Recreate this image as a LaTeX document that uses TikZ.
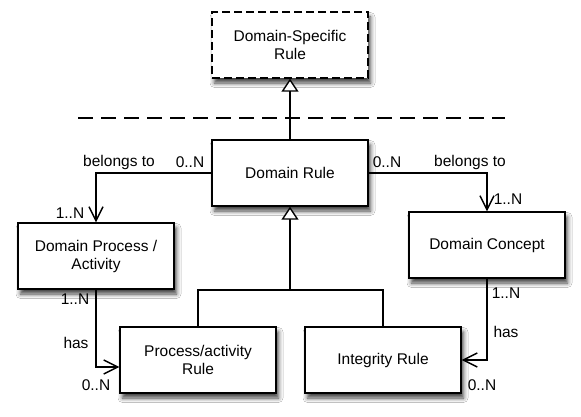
\documentclass[tikz,border=0pt]{standalone}
\usepackage{fontspec}
\setmainfont{Liberation Sans}
\usetikzlibrary{arrows.meta,shadows.blur}
\begin{document}
\begin{tikzpicture}[x=1pt,y=-1pt,
  font=\fontsize{15.5}{18}\selectfont,
  line width=1.4pt,
  umlbox/.style={draw=black, fill=white, minimum width=156pt, minimum height=66pt,
    align=center, inner sep=2pt,
    blur shadow={shadow xshift=2.5pt, shadow yshift=-5pt, shadow blur radius=4.5pt, shadow opacity=75}},
  dashbox/.style={umlbox, dash pattern=on 8pt off 4pt},
  lbl/.style={inner sep=0pt, anchor=center},
  assoc/.style={-{Straight Barb[length=14pt,width=14pt,line width=1.4pt]}},
  inherit/.style={-{Triangle[open,length=13pt,width=17pt,line width=1.4pt,fill=white]}}
]
\useasboundingbox (0,0) rectangle (581,417);
\fill[white] (0,0) rectangle (581,417);

\node[dashbox] (dsr) at (290,45) {Domain-Specific\\Rule};
\node[umlbox] (dr) at (290,173) {Domain Rule};
\node[umlbox] (dpa) at (96,256) {Domain Process /\\Activity};
\node[umlbox] (dc) at (487,245) {Domain Concept};
\node[umlbox] (par) at (198,360) {Process/activity\\Rule};
\node[umlbox] (ir) at (383,360) {Integrity Rule};

\coordinate (dl) at (78,118);
\coordinate (dright) at (505,118);
\draw[dash pattern=on 15pt off 8pt] (dl) -- (dright);

\draw[inherit] (dr.north) -- (dsr.south);

\coordinate (j) at (290,290);
\draw (par.north) |- (j);
\draw (ir.north) |- (j);
\draw[inherit] (j) -- (dr.south);

\coordinate (bl) at (96,173);
\draw[assoc] (dr.west) -- (bl) -- (dpa.north);
\coordinate (br) at (487,173);
\draw[assoc] (dr.east) -- (br) -- (dc.north);

\coordinate (hl) at (96,367);
\draw[assoc] (dpa.south) -- (hl) -- (hl -| par.west);
\coordinate (hr) at (487,360);
\draw[assoc] (dc.south) -- (hr) -- (hr -| ir.east);

\node[lbl] (l1) at (119,162) {belongs to};
\node[lbl] (l2) at (190,162) {0..N};
\node[lbl] (l3) at (70,213) {1..N};
\node[lbl] (l4) at (387,162) {0..N};
\node[lbl] (l5) at (470,162) {belongs to};
\node[lbl] (l6) at (508,199) {1..N};
\node[lbl] (l7) at (75,299) {1..N};
\node[lbl] (l8) at (76,343) {has};
\node[lbl] (l9) at (96,385) {0..N};
\node[lbl] (l10) at (506,293) {1..N};
\node[lbl] (l11) at (506,332) {has};
\node[lbl] (l12) at (482,385) {0..N};
\end{tikzpicture}
\end{document}
